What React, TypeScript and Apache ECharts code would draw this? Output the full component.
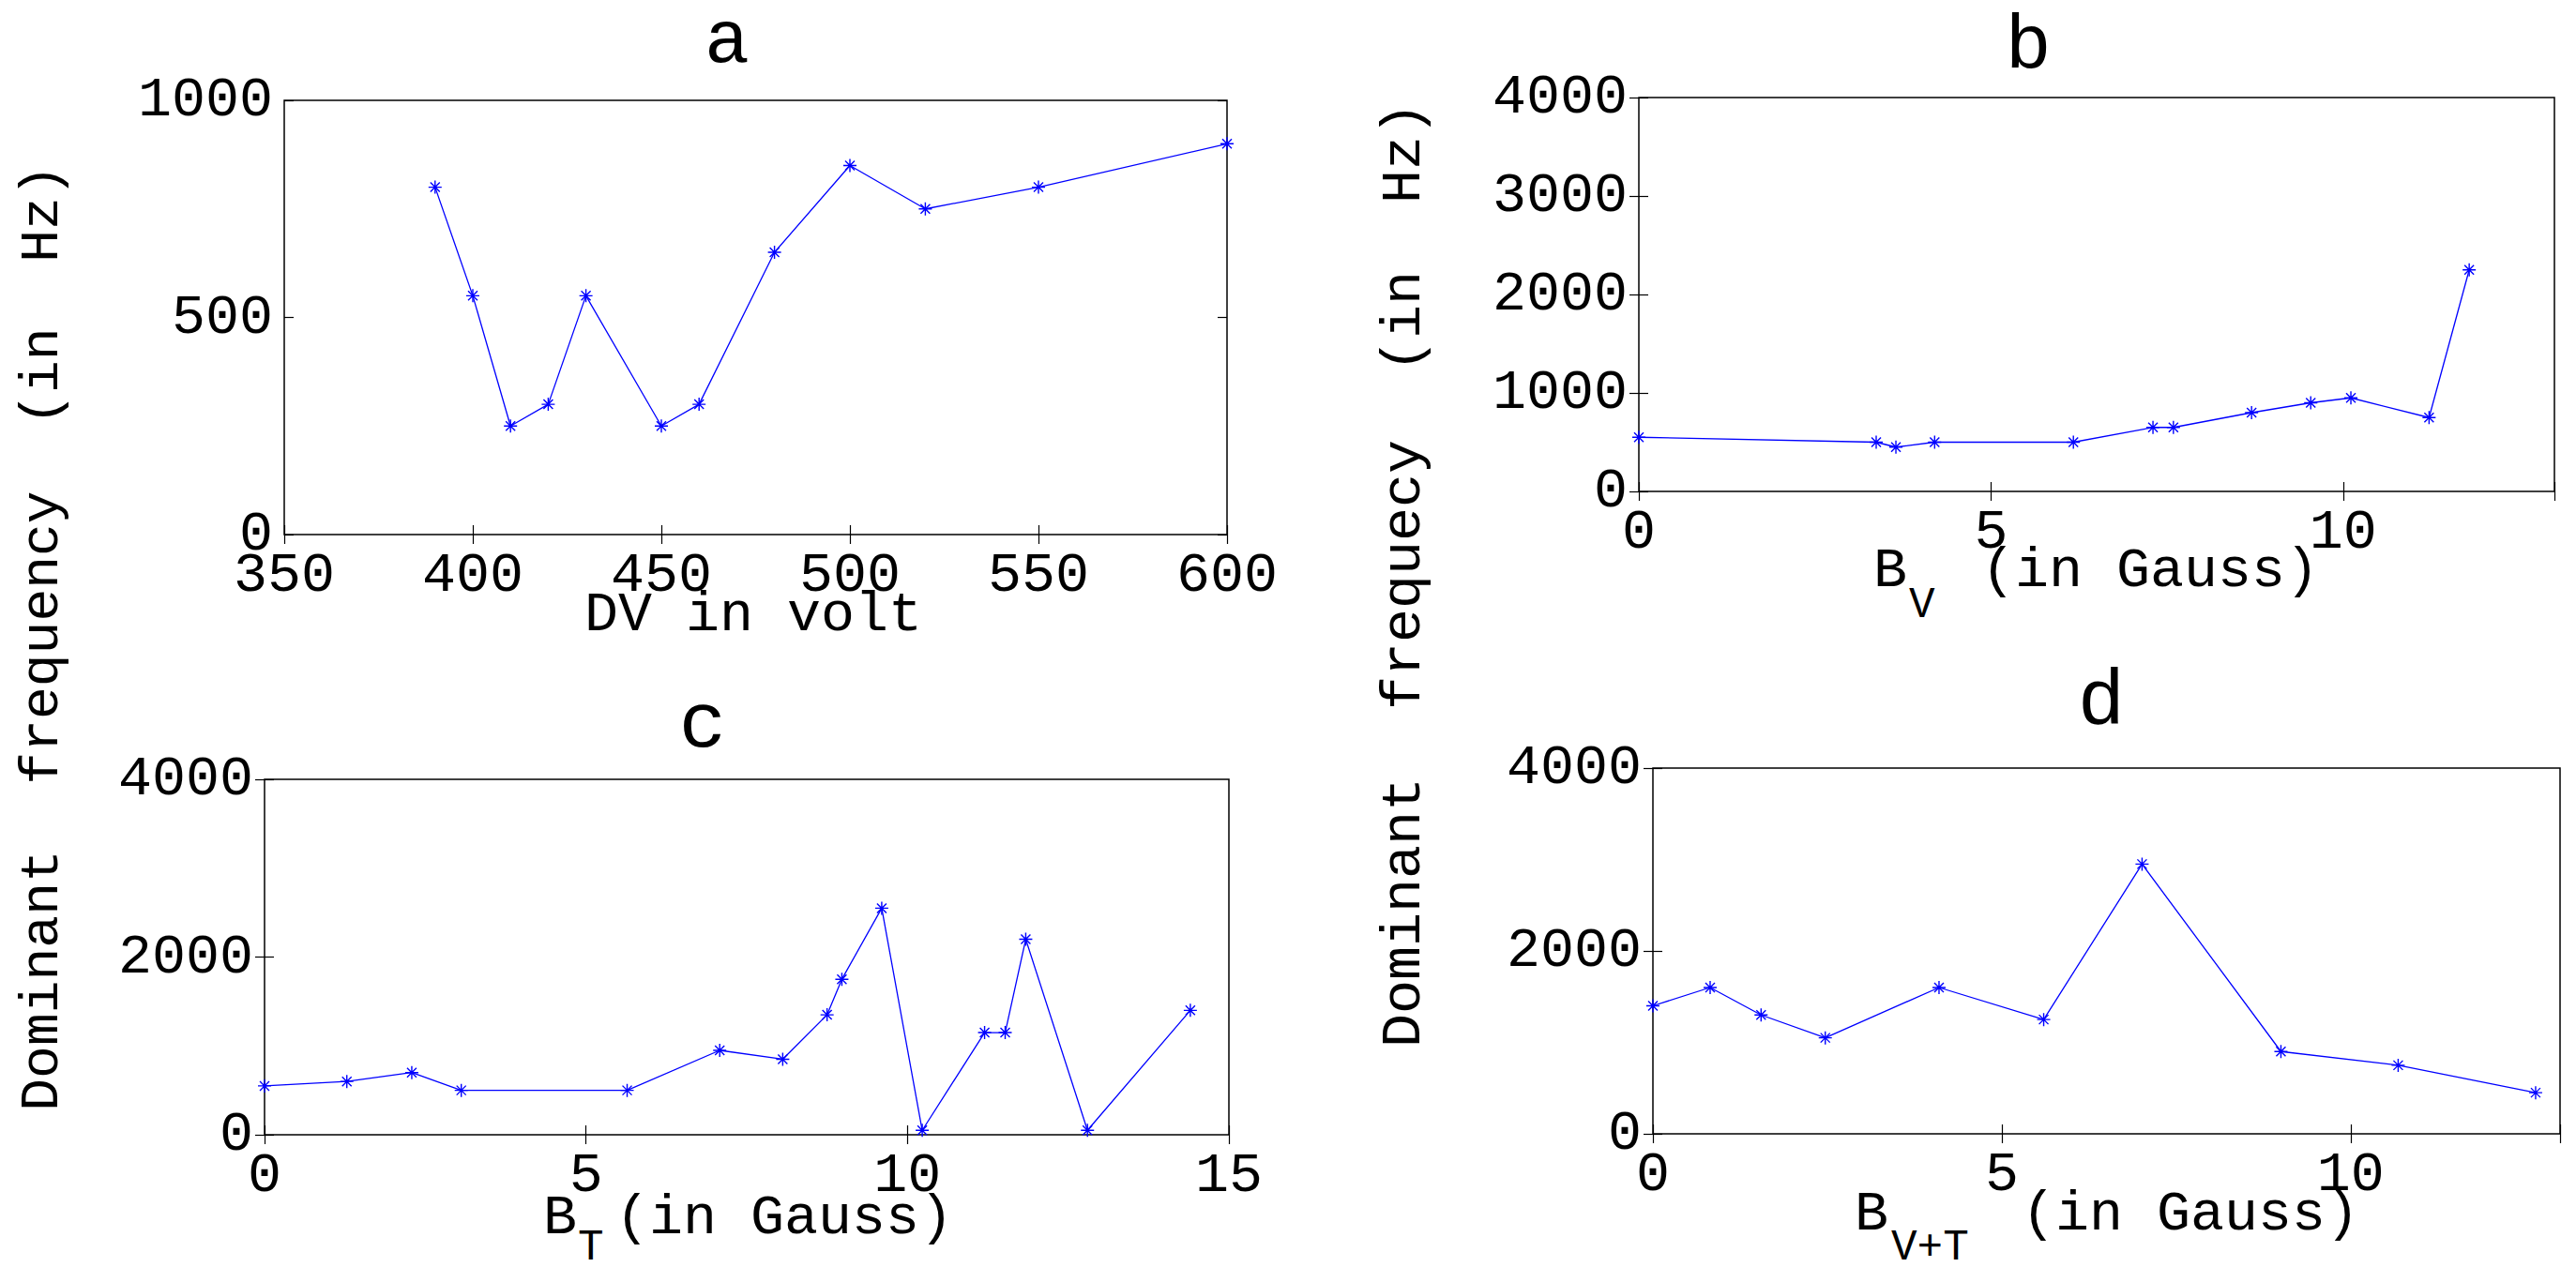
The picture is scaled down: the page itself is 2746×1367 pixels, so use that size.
import React, { useEffect, useRef } from "react";
import * as echarts from "echarts";

// Panel a: discharge voltage sweep
const aVolt = [390, 400, 410, 420, 430, 450, 460, 480, 500, 520, 550, 600];
const aFreq = [800, 550, 250, 300, 550, 250, 300, 650, 850, 750, 800, 900];

// Panel b: vertical field B_V
const bField = [0, 3.37, 3.65, 4.2, 6.17, 7.3, 7.59, 8.7, 9.54, 10.11, 11.22, 11.79];
const bFreq = [550, 500, 450, 500, 500, 650, 650, 800, 900, 950, 750, 2250];

// Panel c: toroidal field B_T
const cField = [0, 1.28, 2.29, 3.06, 5.64, 7.08, 8.06, 8.75, 8.98, 9.6, 10.23, 11.2, 11.52, 11.84, 12.8, 14.4];
const cFreq = [550, 600, 700, 500, 500, 950, 850, 1350, 1750, 2550, 50, 1150, 1150, 2200, 50, 1400];

// Panel d: combined field B_V+T
const dField = [0, 0.82, 1.55, 2.47, 4.1, 5.6, 7.01, 9.0, 10.68, 12.65];
const dFreq = [1400, 1600, 1300, 1050, 1600, 1250, 2950, 900, 750, 450];

const panelTitles = ["a", "b", "c", "d"];
const yLabelLeft = "Dominant  frequency  (in  Hz)";
const yLabelRight = "Dominant  frequecy  (in  Hz)";

const MONO = '"Liberation Mono", "DejaVu Sans Mono", monospace';
const BLUE = "#0000ff";
const STAR = "path://M7 0L7 14M0 7L14 7M2 2L12 12M2 12L12 2";

type Panel = {
  grid: { left: number; top: number; width: number; height: number };
  xMin: number;
  xMax: number;
  xStep: number;
  yMin: number;
  yMax: number;
  yStep: number;
  xs: number[];
  ys: number[];
};

const panels: Panel[] = [
  { grid: { left: 303, top: 107, width: 1005, height: 463 }, xMin: 350, xMax: 600, xStep: 50, yMin: 0, yMax: 1000, yStep: 500, xs: aVolt, ys: aFreq },
  { grid: { left: 1747, top: 104, width: 976, height: 420 }, xMin: 0, xMax: 13, xStep: 5, yMin: 0, yMax: 4000, yStep: 1000, xs: bField, ys: bFreq },
  { grid: { left: 282, top: 831, width: 1028, height: 379 }, xMin: 0, xMax: 15, xStep: 5, yMin: 0, yMax: 4000, yStep: 2000, xs: cField, ys: cFreq },
  { grid: { left: 1762, top: 819, width: 967, height: 390 }, xMin: 0, xMax: 13, xStep: 5, yMin: 0, yMax: 4000, yStep: 2000, xs: dField, ys: dFreq },
];

const tickStyle = { inside: true, length: 10, lineStyle: { color: "#000", width: 1.2 } };
const labelStyle = { fontFamily: MONO, fontSize: 60, color: "#000" };

// central baseline offset for Liberation Mono
const mid = (baseline: number, fs: number) => baseline - 0.2665 * fs;

function txt(text: string, x: number, baseline: number, fs: number, align = "left") {
  return {
    type: "text",
    x,
    y: mid(baseline, fs),
    style: { text, fontFamily: MONO, fontSize: fs, fill: "#000", textAlign: align, textVerticalAlign: "middle" },
  };
}

function buildOption() {
  const grid: any[] = [];
  const xAxis: any[] = [];
  const yAxis: any[] = [];
  const series: any[] = [];

  panels.forEach((p, i) => {
    grid.push({ ...p.grid, show: true, borderColor: "#000", borderWidth: 1.5, backgroundColor: "#fff", containLabel: false });
    const step = p.xStep;
    const fmtX = (v: number) => (Math.abs(v / step - Math.round(v / step)) < 1e-9 ? String(v) : "");
    const fmtY = (v: number) => (Math.abs(v / p.yStep - Math.round(v / p.yStep)) < 1e-9 ? String(v) : "");
    xAxis.push({
      gridIndex: i, type: "value", position: "bottom", min: p.xMin, max: p.xMax, interval: p.xStep,
      axisLine: { show: false }, axisTick: tickStyle, splitLine: { show: false },
      axisLabel: { ...labelStyle, margin: 14, formatter: fmtX },
    });
    xAxis.push({
      gridIndex: i, type: "value", position: "top", min: p.xMin, max: p.xMax, interval: p.xStep,
      axisLine: { show: false }, axisTick: tickStyle, splitLine: { show: false }, axisLabel: { show: false },
    });
    yAxis.push({
      gridIndex: i, type: "value", position: "left", min: p.yMin, max: p.yMax, interval: p.yStep,
      axisLine: { show: false }, axisTick: tickStyle, splitLine: { show: false },
      axisLabel: { ...labelStyle, margin: 12, formatter: fmtY },
    });
    yAxis.push({
      gridIndex: i, type: "value", position: "right", min: p.yMin, max: p.yMax, interval: p.yStep,
      axisLine: { show: false }, axisTick: tickStyle, splitLine: { show: false }, axisLabel: { show: false },
    });
    series.push({
      type: "line",
      xAxisIndex: 2 * i,
      yAxisIndex: 2 * i,
      data: p.xs.map((x, k) => [x, p.ys[k]]),
      symbol: STAR,
      symbolSize: 14,
      showAllSymbol: true,
      lineStyle: { color: BLUE, width: 1.3 },
      itemStyle: { color: "transparent", borderColor: BLUE, borderWidth: 1.4 },
      emphasis: { disabled: true },
      silent: true,
    });
  });

  const graphic: any[] = [
    // panel titles
    txt(panelTitles[0], 775, 66, 80, "center"),
    txt(panelTitles[1], 2162, 72, 82, "center"),
    txt(panelTitles[2], 749, 796, 84, "center"),
    txt(panelTitles[3], 2240, 772, 84, "center"),
    // x-axis names
    txt("DV in volt", 803, 672, 60, "center"),
    txt("B", 1997, 625, 60),
    txt("V", 2035, 658, 46),
    txt("(in Gauss)", 2112, 625, 60),
    txt("B", 579, 1315, 60),
    txt("T", 616, 1343, 46),
    txt("(in Gauss)", 656, 1315, 60),
    txt("B", 1977, 1311, 60),
    txt("V+T", 2016, 1343, 46),
    txt("(in Gauss)", 2155, 1311, 60),
    // shared y-axis names
    {
      type: "text", x: 45, y: 680, rotation: Math.PI / 2,
      style: { text: yLabelLeft, fontFamily: MONO, fontSize: 58, fill: "#000", textAlign: "center", textVerticalAlign: "middle" },
    },
    {
      type: "text", x: 1497, y: 613, rotation: Math.PI / 2,
      style: { text: yLabelRight, fontFamily: MONO, fontSize: 60, fill: "#000", textAlign: "center", textVerticalAlign: "middle" },
    },
  ];

  return { animation: false, backgroundColor: "#fff", grid, xAxis, yAxis, series, graphic };
}

export default function App() {
  const ref = useRef<HTMLDivElement>(null);
  useEffect(() => {
    if (!ref.current) return;
    const chart = echarts.init(ref.current, undefined, { renderer: "svg" });
    chart.setOption(buildOption() as any);
    return () => chart.dispose();
  }, []);
  return <div ref={ref} style={{ position: "absolute", left: 0, top: 0, width: 2746, height: 1367 }} />;
}
